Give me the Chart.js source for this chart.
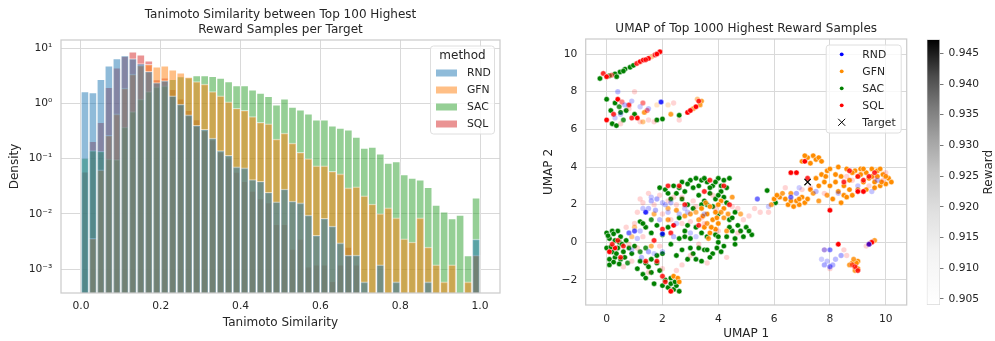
<!DOCTYPE html>
<html>
<head>
<meta charset="utf-8">
<script src="https://cdn.jsdelivr.net/npm/chart.js@4.4.1/dist/chart.umd.min.js"></script>
<style>
  html, body { margin: 0; padding: 0; background: #fff; }
  body { width: 995px; height: 341px; position: relative; overflow: hidden; }
  .box { position: absolute; top: 0; height: 341px; }
  #histBox { left: 0; width: 505px; }
  #umapBox { left: 505px; width: 410px; }
  #cbarBox { left: 915px; width: 80px; }
</style>
</head>
<body>
<div class="box" id="histBox"><canvas id="hist"></canvas></div>
<div class="box" id="umapBox"><canvas id="umap"></canvas></div>
<div class="box" id="cbarBox"><canvas id="cbar"></canvas></div>
<script>
// ---- data ----
const methods = ['RND', 'GFN', 'SAC', 'SQL'];

// histogram bin centres (bin width 0.02)
const binCenters = [0.01, 0.03, 0.05, 0.07, 0.09, 0.11, 0.13, 0.15, 0.17, 0.19,
  0.21, 0.23, 0.25, 0.27, 0.29, 0.31, 0.33, 0.35, 0.37, 0.39,
  0.41, 0.43, 0.45, 0.47, 0.49, 0.51, 0.53, 0.55, 0.57, 0.59,
  0.61, 0.63, 0.65, 0.67, 0.69, 0.71, 0.73, 0.75, 0.77, 0.79,
  0.81, 0.83, 0.85, 0.87, 0.89, 0.91, 0.93, 0.95, 0.97, 0.99];

const rndDensity = [1.65, 1.58, 2.75, 4.8, 6.5, 7.4, 6.5, 5.3, 3.8, 2.4,
  2.6, 1.38, 0.97, 0.62, 0.40, 0.34, 0.236, 0.14, 0.115, 0.071,
  0.068, 0.042, 0.039, 0.0247, 0.0166, 0.0283, 0.017, 0.0158, 0.0095, 0.0041,
  0.0083, 0.006, 0.003, 0.0018, 0.0018, 0.00059, null, 0.0012, null, 0.00059,
  null, null, null, 0.00059, null, null, null, null, null, 0.0035];

const gfnDensity = [null, 0.0036, 0.063, 0.264, 0.65, 1.9, 3.4, 4.9, 5.1, 4.6,
  4.8, 4.06, 3.58, 3.0, 2.5, 2.24, 1.65, 1.38, 1.07, 0.82,
  0.75, 0.58, 0.454, 0.43, 0.226, 0.29, 0.192, 0.13, 0.10, 0.0746,
  0.0746, 0.059, 0.053, 0.0296, 0.031, 0.0213, 0.0151, 0.0101, 0.0129, 0.0085,
  0.00355, 0.0031, 0.0085, 0.0025, 0.0012, 0.00059, 0.0012, null, 0.00059, 0.0018];

const sacDensity = [0.103, 0.14, 0.136, 0.099, 0.096, 0.373, 0.71, 1.2, 1.65, 2.0,
  2.08, 2.75, 3.08, 2.95, 3.2, 3.2, 3.1, 2.87, 2.5, 2.11,
  2.11, 1.77, 1.54, 1.34, 0.946, 1.21, 0.86, 0.77, 0.65, 0.507,
  0.507, 0.394, 0.358, 0.334, 0.247, 0.156, 0.163, 0.123, 0.0836, 0.0883,
  0.0516, 0.0448, 0.0416, 0.0303, 0.0144, 0.0109, 0.0082, 0.0095, 0.00177, 0.0195];

const sqlDensity = [0.058, 0.206, 0.454, 1.97, 4.4, 7.2, 8.6, 7.6, 5.9, 2.7,
  2.9, 1.8, 1.21, 0.75, 0.51, 0.32, 0.22, 0.13, 0.10, 0.057,
  0.039, 0.026, 0.019, 0.016, 0.0065, 0.0065, 0.0023, 0.0035, 0.0011, 0.0012,
  0.0012, 0.0006, 0.0012, 0.0025, 0.0012, null, null, null, null, null,
  null, null, null, null, null, null, null, null, null, 0.0018];

const histXTicks = [0, 0.2, 0.4, 0.6, 0.8, 1.0];
const histYTicks = [0.001, 0.01, 0.1, 1, 10];
const histYTickLabels = ['10\u207B\u00B3', '10\u207B\u00B2', '10\u207B\u00B9', '10\u2070', '10\u00B9'];

// UMAP points: [umap1, umap2, reward]
const rndPoints = [
  [1.8, 2.3, 0.915], [2.0, 2.1, 0.912], [1.5, 1.8, 0.913], [1.4, 1.6, 0.93], [2.2, 1.6, 0.912],
  [2.5, 1.0, 0.911], [1.2, 0.6, 0.912], [1.0, 0.6, 0.925], [3.0, 0.5, 0.912], [3.2, 0.3, 0.911],
  [1.9, 1.2, 0.913], [2.0, -0.5, 0.912], [1.5, -0.5, 0.915], [1.7, -0.6, 0.911], [2.1, 2.0, 0.913],
  [1.3, 1.8, 0.912], [1.6, 2.2, 0.914], [0.8, 0.5, 0.922], [2.0, 0.45, 0.93], [2.9, 1.6, 0.912],
  [1.6, 2.4, 0.912], [2.3, 2.1, 0.913], [1.75, 1.7, 0.914], [2.6, 1.5, 0.912], [2.8, 1.8, 0.911],
  [1.1, 0.2, 0.912], [2.4, 0.3, 0.913], [3.5, 1.5, 0.912], [0.9, -0.4, 0.912], [1.25, -0.8, 0.913],
  [0.4, 8.0, 0.913], [1.5, 7.1, 0.912], [0.65, 7.3, 0.913], [1.95, 7.45, 0.93], [0.3, 6.6, 0.911],
  [0.5, 6.8, 0.912], [1.2, 7.2, 0.911], [0.9, 7.5, 0.912],
  [6.6, 2.4, 0.922], [6.8, 2.6, 0.915], [7.8, -0.4, 0.915], [8.0, -0.4, 0.92], [7.8, -1.2, 0.915],
  [8.0, -1.3, 0.92], [8.2, -0.9, 0.913], [7.7, -0.9, 0.911], [8.4, -0.7, 0.915], [5.8, 1.9, 0.911],
  [7.5, 2.7, 0.913], [9.0, 3.0, 0.912], [9.7, 3.3, 0.913], [9.4, -0.1, 0.925], [5.4, 2.3, 0.922],
  [7.9, -1.0, 0.912], [8.1, -1.2, 0.914], [6.9, 2.9, 0.911], [8.3, 2.6, 0.912], [9.5, 2.7, 0.912]
];

const gfnPoints = [
  [1.61, 9.86, 0.92], [1.2, 9.55, 0.91],
  [1.35, 6.9, 0.93], [1.3, 6.4, 0.92], [1.8, 7.3, 0.912], [2.2, 7.3, 0.912], [2.3, 6.8, 0.93],
  [3.4, 7.5, 0.93], [3.1, 7.1, 0.93], [3.35, 7.3, 0.93], [3.25, 7.6, 0.92],
  [3.4, 1.8, 0.935], [3.6, 1.5, 0.935], [3.8, 1.2, 0.935], [3.5, 0.8, 0.935], [3.7, 0.5, 0.935],
  [4.0, 1.0, 0.935], [4.2, 1.8, 0.935], [4.1, 2.2, 0.935], [3.9, 0.7, 0.935], [3.3, 1.2, 0.93],
  [4.3, 0.6, 0.93], [4.5, 2.4, 0.93], [2.2, 1.2, 0.93], [2.5, 1.7, 0.93], [2.8, 1.4, 0.93],
  [1.7, 1.5, 0.925], [2.4, -1.8, 0.935], [2.55, -1.9, 0.935], [2.3, -2.6, 0.93], [2.2, 1.8, 0.925],
  [3.0, 1.5, 0.93], [4.8, 1.5, 0.925], [1.0, 0.8, 0.92], [1.6, -0.2, 0.925], [0.9, 0.3, 0.92],
  [3.7, 1.9, 0.935], [3.9, 1.6, 0.935], [4.0, 2.0, 0.935], [3.6, 1.0, 0.93], [4.2, 1.3, 0.93],
  [3.45, 1.4, 0.935], [3.55, 2.1, 0.93], [3.75, 0.8, 0.935], [3.95, 1.3, 0.935], [4.1, 1.6, 0.93],
  [3.65, 0.2, 0.93], [3.2, 1.6, 0.925], [4.35, 1.5, 0.93], [2.6, -2.1, 0.935],
  [6.0, 2.3, 0.94], [6.2, 2.4, 0.94], [6.4, 2.3, 0.94], [6.5, 2.0, 0.94], [6.7, 1.9, 0.94],
  [6.9, 2.0, 0.94], [7.1, 2.1, 0.94], [7.2, 2.3, 0.94], [6.8, 2.2, 0.94], [7.0, 2.4, 0.94],
  [6.3, 2.6, 0.93], [6.6, 2.6, 0.93], [7.3, 2.8, 0.94], [7.6, 3.0, 0.94], [7.8, 3.2, 0.94],
  [7.5, 3.4, 0.94], [7.7, 3.6, 0.94], [7.9, 3.8, 0.94], [8.0, 3.9, 0.94], [8.2, 3.6, 0.94],
  [8.0, 3.0, 0.94], [8.3, 2.7, 0.94], [8.5, 2.5, 0.94], [8.1, 2.3, 0.94], [8.4, 2.1, 0.94],
  [8.6, 2.4, 0.94], [8.5, 3.0, 0.94], [8.7, 3.3, 0.94], [8.9, 3.8, 0.94], [9.1, 3.9, 0.94],
  [9.3, 3.7, 0.94], [9.5, 3.9, 0.94], [9.7, 3.8, 0.94], [9.9, 3.6, 0.94], [10.1, 3.4, 0.94],
  [10.2, 3.2, 0.94], [10.0, 3.1, 0.94], [9.8, 3.0, 0.94], [9.6, 3.2, 0.94], [9.4, 3.4, 0.94],
  [9.2, 3.2, 0.94], [9.0, 3.5, 0.94], [8.8, 3.7, 0.94], [8.6, 3.9, 0.94], [9.0, 2.8, 0.94],
  [9.3, 2.8, 0.94], [9.6, 2.9, 0.94], [8.2, 3.2, 0.94], [7.4, 4.6, 0.94], [7.2, 4.5, 0.94],
  [7.0, 4.3, 0.94], [7.5, 4.4, 0.94], [7.3, 4.2, 0.94], [7.6, 4.5, 0.94], [5.9, 2.0, 0.93],
  [7.4, 2.6, 0.93], [7.9, 2.5, 0.93], [8.7, 2.8, 0.94], [9.8, 3.9, 0.94], [9.5, 3.5, 0.94],
  [6.1, 2.5, 0.94], [6.6, 2.2, 0.94], [6.9, 2.3, 0.94], [7.6, 2.2, 0.93], [8.8, 2.5, 0.94],
  [9.1, 3.6, 0.94], [9.7, 3.5, 0.94], [10.0, 3.5, 0.94], [9.85, 3.2, 0.94], [8.4, 3.5, 0.94],
  [7.85, 3.5, 0.94], [8.3, 4.0, 0.94], [9.2, 3.9, 0.94], [7.1, 4.6, 0.94], [7.7, 4.3, 0.94],
  [8.8, -1.1, 0.94], [8.9, -1.3, 0.94], [9.0, -1.0, 0.94], [8.9, -1.5, 0.93], [9.0, -1.4, 0.94],
  [8.7, -1.2, 0.93], [9.6, 0.1, 0.93], [8.95, -1.1, 0.94], [8.85, -0.9, 0.93]
];

const sacPoints = [
  [-0.24, 8.7, 0.94], [0.3, 8.95, 0.94], [0.36, 8.8, 0.94], [0.48, 9.05, 0.94], [0.66, 9.2, 0.94],
  [0.84, 9.3, 0.94], [0.96, 9.4, 0.94], [0.1, 8.85, 0.93], [0.6, 9.1, 0.94],
  [0.0, 7.6, 0.94], [0.3, 7.4, 0.94], [0.5, 6.9, 0.94], [0.2, 6.3, 0.94], [0.35, 6.2, 0.94],
  [0.7, 7.0, 0.94], [1.0, 6.8, 0.94], [0.6, 6.5, 0.93], [0.15, 7.0, 0.94], [0.45, 7.2, 0.93],
  [1.8, 6.5, 0.94], [2.0, 6.55, 0.94], [2.6, 6.75, 0.94],
  [0.0, 0.5, 0.94], [0.2, 0.6, 0.94], [0.4, 0.6, 0.94], [0.1, 0.2, 0.94], [0.3, 0.1, 0.94],
  [0.5, 0.3, 0.94], [0.0, -0.3, 0.94], [0.2, -0.5, 0.94], [0.4, -0.3, 0.94], [0.1, -0.9, 0.94],
  [0.3, -0.8, 0.94], [0.5, -0.9, 0.94], [0.6, -0.5, 0.94], [0.7, 0.1, 0.94], [0.8, -0.3, 0.94],
  [0.9, -0.6, 0.94], [0.1, -1.2, 0.94], [1.0, -0.2, 0.94], [1.2, -1.0, 0.94], [1.4, -1.1, 0.94],
  [1.3, -1.7, 0.94], [1.5, -1.3, 0.94], [1.6, -0.9, 0.94], [1.8, -1.1, 0.94], [1.9, -1.5, 0.94],
  [2.1, -2.0, 0.94], [2.2, -2.4, 0.94], [2.4, -2.5, 0.94], [2.5, -2.3, 0.94], [2.6, -2.6, 0.94],
  [2.3, -1.9, 0.94], [1.4, -1.9, 0.94], [1.8, -0.7, 0.94], [2.0, -0.6, 0.94], [2.5, -0.7, 0.94],
  [2.3, -0.1, 0.94], [2.6, 0.2, 0.94], [2.8, 0.3, 0.94], [3.0, -0.3, 0.94], [3.2, -0.9, 0.94],
  [3.5, -0.4, 0.94], [3.8, -0.6, 0.94], [4.1, -0.5, 0.94], [3.6, 0.3, 0.94], [3.9, 0.4, 0.94],
  [4.3, 0.3, 0.94], [4.5, 0.6, 0.94], [4.7, 0.9, 0.94], [5.0, 0.8, 0.94], [5.2, 0.4, 0.94],
  [4.9, 0.3, 0.94], [4.6, 0.2, 0.94], [1.2, 1.1, 0.94], [1.4, 0.8, 0.94], [1.6, 0.5, 0.94],
  [1.8, 0.9, 0.94], [2.0, 0.4, 0.94], [2.2, 0.8, 0.94], [1.9, 2.9, 0.94], [2.1, 2.8, 0.94],
  [2.3, 2.3, 0.94], [2.4, 3.0, 0.94], [2.6, 2.9, 0.94], [2.8, 2.7, 0.94], [3.0, 3.3, 0.94],
  [3.2, 3.4, 0.94], [3.4, 3.3, 0.94], [3.6, 3.2, 0.94], [3.8, 3.0, 0.94], [4.0, 3.4, 0.94],
  [4.2, 3.3, 0.94], [4.4, 3.4, 0.94], [3.3, 2.5, 0.94], [3.5, 2.2, 0.94], [3.7, 2.6, 0.94],
  [3.9, 2.3, 0.94], [4.1, 2.7, 0.94], [4.3, 2.1, 0.94], [2.9, 2.0, 0.94], [3.1, 1.8, 0.94],
  [4.6, 1.6, 0.94], [4.4, 1.2, 0.94], [3.2, 0.8, 0.94], [2.6, 1.3, 0.94], [2.8, 0.6, 0.94],
  [2.9, -0.9, 0.94], [4.0, 1.5, 0.94], [4.0, 0.0, 0.94], [3.4, -1.0, 0.94], [3.6, -0.4, 0.94],
  [0.05, 0.35, 0.94], [0.25, 0.45, 0.94], [0.45, 0.0, 0.94], [0.15, -0.25, 0.94], [0.35, -0.6, 0.94],
  [0.55, -0.1, 0.94], [0.25, -1.05, 0.94], [0.45, -1.15, 0.94], [0.65, -0.8, 0.94], [0.75, -1.1, 0.93],
  [1.1, -1.4, 0.94], [1.6, -1.6, 0.94], [1.7, -2.2, 0.94], [2.0, -2.3, 0.94], [2.3, -2.2, 0.94],
  [2.45, -2.1, 0.94], [1.2, -0.5, 0.93], [1.4, -0.3, 0.93], [2.7, -0.4, 0.94], [3.1, -0.6, 0.94],
  [3.3, -0.3, 0.94], [3.7, -0.8, 0.94], [3.95, -0.3, 0.94], [4.2, -0.2, 0.94], [4.8, 0.6, 0.94],
  [5.1, 0.6, 0.94], [4.4, 0.8, 0.94], [2.5, 2.6, 0.94], [2.7, 3.2, 0.94], [2.9, 3.1, 0.94],
  [3.1, 2.9, 0.94], [3.3, 3.0, 0.94], [3.5, 3.4, 0.94], [3.7, 2.9, 0.94], [3.9, 3.2, 0.94],
  [4.1, 3.0, 0.94], [4.3, 2.9, 0.94], [3.4, 2.0, 0.94], [3.6, 2.0, 0.94], [3.8, 1.9, 0.94],
  [4.0, 2.5, 0.94], [4.2, 2.4, 0.94], [2.7, 2.3, 0.94], [2.2, 2.6, 0.94], [1.6, 1.2, 0.93],
  [1.3, 1.0, 0.94], [2.9, 0.9, 0.94], [3.0, 0.2, 0.94], [3.4, 0.5, 0.94], [4.5, 1.3, 0.94],
  [4.6, -0.1, 0.94], [4.0, 0.3, 0.94],
  [5.75, 2.75, 0.94], [6.05, 2.1, 0.94]
];

const sqlPoints = [
  [-0.12, 8.97, 0.93], [0.0, 8.8, 0.94], [1.08, 9.5, 0.93], [1.2, 9.6, 0.94], [1.31, 9.68, 0.94],
  [1.5, 9.77, 0.94], [1.73, 9.95, 0.93], [1.91, 10.12, 0.94], [0.18, 8.88, 0.92], [1.4, 9.7, 0.93],
  [1.8, 10.0, 0.94],
  [0.0, 6.5, 0.94], [0.4, 7.6, 0.94], [0.8, 7.3, 0.93], [1.1, 6.6, 0.94], [0.25, 6.8, 0.93],
  [0.9, 6.6, 0.93], [1.3, 7.4, 0.92], [1.45, 7.0, 0.92], [0.55, 7.45, 0.92], [1.2, 6.4, 0.91],
  [2.9, 6.9, 0.94], [3.0, 7.0, 0.94], [3.2, 7.2, 0.94], [3.3, 7.5, 0.93], [2.6, 6.5, 0.91],
  [1.7, 6.4, 0.91], [0.5, 6.3, 0.91], [0.8, 7.1, 0.91], [1.5, 6.5, 0.91], [1.0, 8.0, 0.91],
  [2.4, 7.4, 0.91],
  [0.1, -0.5, 0.94], [0.3, -0.3, 0.94], [0.6, -0.2, 0.93], [0.4, 0.1, 0.93], [0.2, -0.1, 0.93],
  [2.3, -2.6, 0.94], [1.8, -1.0, 0.93], [2.0, 0.7, 0.93], [2.4, 0.9, 0.94], [2.3, 0.5, 0.93],
  [2.2, 3.0, 0.93], [2.6, 3.0, 0.93], [3.5, 2.7, 0.93], [4.2, 3.0, 0.93], [3.7, 3.3, 0.93],
  [1.4, -1.0, 0.93], [0.5, -0.8, 0.93], [2.1, -2.1, 0.93], [2.0, -1.8, 0.93], [3.3, 0.9, 0.93],
  [4.4, 2.0, 0.93], [2.8, 2.0, 0.93], [1.7, 0.1, 0.93],
  [1.0, 1.0, 0.91], [1.3, 2.1, 0.91], [1.5, 2.6, 0.91], [1.7, 2.0, 0.91], [2.0, 1.5, 0.91],
  [2.7, 1.0, 0.91], [3.0, 1.1, 0.91], [3.2, 1.9, 0.91], [3.5, 1.0, 0.91], [3.8, 2.5, 0.91],
  [4.5, 1.9, 0.91], [4.7, 0.5, 0.91], [5.5, 1.6, 0.91], [5.8, 1.6, 0.91], [1.1, -0.3, 0.91],
  [1.5, -1.6, 0.91], [2.0, -1.4, 0.91], [2.7, -1.2, 0.91], [3.0, -0.7, 0.91], [3.3, -0.1, 0.91],
  [0.9, -1.0, 0.91], [0.6, -1.3, 0.91], [2.4, 2.4, 0.91], [2.7, 2.4, 0.91], [4.0, 0.6, 0.91],
  [4.9, 1.2, 0.91], [5.1, 1.4, 0.91], [1.1, 1.6, 0.91], [0.7, 0.8, 0.91], [2.3, 1.2, 0.91],
  [1.9, 2.5, 0.91], [2.2, 2.2, 0.91], [2.5, 2.0, 0.91], [3.1, 2.2, 0.91], [3.4, 1.3, 0.91],
  [3.9, 1.8, 0.91], [4.7, 1.8, 0.91], [5.3, 1.8, 0.91], [0.8, -0.1, 0.91], [1.3, 0.3, 0.91],
  [1.9, -0.2, 0.91], [2.5, -1.5, 0.91], [3.6, -1.1, 0.91], [4.3, -0.8, 0.91], [1.2, 2.3, 0.91],
  [6.6, 3.7, 0.94], [6.8, 3.7, 0.94], [7.1, 4.3, 0.94], [7.2, 3.4, 0.93], [8.0, 1.7, 0.94],
  [8.3, -0.1, 0.94], [9.5, 0.0, 0.94], [9.4, -0.1, 0.94], [8.7, 3.8, 0.93], [9.0, 3.5, 0.93],
  [9.2, 3.3, 0.93], [9.4, 3.5, 0.93], [9.6, 3.7, 0.93], [9.2, 2.7, 0.94], [9.0, 2.7, 0.94],
  [8.5, 3.2, 0.93], [8.9, -1.3, 0.93], [9.0, -1.5, 0.93], [8.8, -1.2, 0.92],
  [6.4, 2.9, 0.91], [7.0, 2.8, 0.91], [7.8, 2.6, 0.91], [8.6, 3.5, 0.91], [9.4, 3.0, 0.91],
  [9.9, 3.3, 0.91], [8.0, -1.4, 0.91], [7.8, -0.4, 0.91], [8.6, -0.7, 0.91], [9.3, -0.2, 0.91],
  [7.3, 2.9, 0.91], [8.8, 3.3, 0.91], [9.6, 3.4, 0.91], [10.0, 3.7, 0.91], [8.5, -0.4, 0.91]
];

const targetPoint = [7.2, 3.2];

const umapXTicks = [0, 2, 4, 6, 8, 10];
const umapYTicks = [-2, 0, 2, 4, 6, 8, 10];
const rewardTicks = [0.905, 0.91, 0.915, 0.92, 0.925, 0.93, 0.935, 0.94, 0.945];
const rewardRange = [0.90402, 0.94728];

// ---- styles ----
const TEXT = '#262626';
const GRID = '#d9d9d9';
const FRAME = '#cccccc';
const FONT = 'DejaVu Sans';
Chart.defaults.font.family = FONT;
Chart.defaults.color = TEXT;
Chart.defaults.animation = false;

const histColors = {
  RND: 'rgba(31,119,180,0.5)',
  GFN: 'rgba(255,127,14,0.5)',
  SAC: 'rgba(44,160,44,0.5)',
  SQL: 'rgba(214,39,40,0.5)'
};
const scatterRgb = { RND: [0, 0, 255], GFN: [255, 140, 0], SAC: [0, 128, 0], SQL: [255, 0, 0] };

function drawLegendBox(ctx, x, y, w, h) {
  ctx.save();
  ctx.beginPath();
  ctx.roundRect(x, y, w, h, 3);
  ctx.fillStyle = 'rgba(255,255,255,0.8)';
  ctx.fill();
  ctx.strokeStyle = '#dedede';
  ctx.lineWidth = 1;
  ctx.stroke();
  ctx.restore();
}

function drawFrame(chart) {
  const { ctx, chartArea: a } = chart;
  ctx.save();
  ctx.strokeStyle = FRAME;
  ctx.lineWidth = 1.25;
  ctx.strokeRect(a.left, a.top, a.right - a.left, a.bottom - a.top);
  ctx.restore();
}

// ---- histogram ----
const histSeries = { RND: rndDensity, GFN: gfnDensity, SAC: sacDensity, SQL: sqlDensity };

const histLegend = {
  id: 'histLegend',
  afterDatasetsDraw(chart) {
    drawFrame(chart);
    const { ctx, chartArea: a } = chart;
    drawLegendBox(ctx, a.right - 69.5, a.top + 6, 64, 88);
    ctx.save();
    ctx.fillStyle = TEXT;
    ctx.textBaseline = 'middle';
    ctx.font = '12px ' + FONT;
    ctx.textAlign = 'center';
    ctx.fillText('method', a.right - 37.5, a.top + 16);
    ctx.font = '10.8px ' + FONT;
    ctx.textAlign = 'left';
    methods.forEach((m, i) => {
      const y = a.top + 33 + i * 17;
      ctx.fillStyle = histColors[m];
      ctx.fillRect(a.right - 64, y - 3.5, 21, 7);
      ctx.fillStyle = TEXT;
      ctx.fillText(m, a.right - 33, y + 0.5);
    });
    ctx.restore();
  }
};

new Chart(document.getElementById('hist'), {
  type: 'bar',
  data: {
    datasets: methods.map(m => ({
      label: m,
      data: binCenters.map((c, i) => ({ x: c, y: histSeries[m][i] })),
      backgroundColor: histColors[m],
      borderColor: 'rgba(255,255,255,0.55)',
      borderWidth: 1,
      borderSkipped: 'start',
      grouped: false,
      barPercentage: 1,
      categoryPercentage: 1
    }))
  },
  options: {
    responsive: true,
    maintainAspectRatio: false,
    layout: { padding: { left: 0, right: 5, top: 0, bottom: 0 } },
    plugins: {
      legend: { display: false },
      tooltip: { enabled: false },
      title: {
        display: true,
        fullSize: false,
        text: ['Tanimoto Similarity between Top 100 Highest', 'Reward Samples per Target'],
        font: { size: 12, weight: 'normal' },
        color: TEXT,
        padding: { top: 7.8, bottom: 3.4 }
      }
    },
    scales: {
      x: {
        type: 'linear',
        min: -0.05,
        max: 1.05,
        offset: false,
        afterFit: s => { s.height = 48; },
        afterBuildTicks: s => { s.ticks = histXTicks.map(v => ({ value: v })); },
        ticks: { font: { size: 10.7 }, color: TEXT, padding: 7.3, callback: v => v.toFixed(1) },
        grid: { color: GRID, drawTicks: false, offset: false },
        border: { display: false },
        title: { display: true, text: 'Tanimoto Similarity', font: { size: 12 }, color: TEXT, padding: { top: 0, bottom: 10.5 } }
      },
      y: {
        type: 'logarithmic',
        min: 0.00037,
        max: 14.1,
        afterFit: s => { s.width = 61; },
        afterBuildTicks: s => { s.ticks = histYTicks.map(v => ({ value: v })); },
        ticks: {
          font: { size: 10.7 }, color: TEXT, padding: 8.7,
          callback: v => histYTickLabels[histYTicks.indexOf(v)]
        },
        grid: { color: GRID, drawTicks: false },
        border: { display: false },
        title: { display: true, text: 'Density', font: { size: 12 }, color: TEXT, padding: { top: 7.8, bottom: 0 } }
      }
    }
  },
  plugins: [histLegend]
});

// ---- UMAP scatter ----
function rewardAlpha(r) {
  return Math.min(1, Math.max(0.12, (r - 0.905) / 0.03));
}
function rgba(rgb, a) {
  return 'rgba(' + rgb[0] + ',' + rgb[1] + ',' + rgb[2] + ',' + a.toFixed(3) + ')';
}
const umapSeries = { RND: rndPoints, GFN: gfnPoints, SAC: sacPoints, SQL: sqlPoints };
const drawOrder = { RND: 0, SQL: 1, GFN: 2, SAC: 3 };

const umapLegend = {
  id: 'umapLegend',
  afterDatasetsDraw(chart) {
    drawFrame(chart);
    const { ctx, chartArea: a } = chart;
    drawLegendBox(ctx, a.right - 80.5, a.top + 6, 75, 88);
    ctx.save();
    ctx.font = '10.8px ' + FONT;
    ctx.textBaseline = 'middle';
    ctx.textAlign = 'left';
    const labels = methods.concat(['Target']);
    labels.forEach((m, i) => {
      const y = a.top + 15.3 + i * 17;
      const x = a.right - 65;
      if (m === 'Target') {
        ctx.strokeStyle = '#000';
        ctx.lineWidth = 1;
        ctx.beginPath();
        ctx.moveTo(x - 3.5, y - 3.5); ctx.lineTo(x + 3.5, y + 3.5);
        ctx.moveTo(x - 3.5, y + 3.5); ctx.lineTo(x + 3.5, y - 3.5);
        ctx.stroke();
      } else {
        ctx.fillStyle = rgba(scatterRgb[m], 1);
        ctx.beginPath();
        ctx.arc(x, y, 1.9, 0, Math.PI * 2);
        ctx.fill();
      }
      ctx.fillStyle = TEXT;
      ctx.fillText(m, a.right - 44.4, y + 0.5);
    });
    ctx.restore();
  }
};

new Chart(document.getElementById('umap'), {
  type: 'scatter',
  data: {
    datasets: methods.map(m => ({
      label: m,
      order: drawOrder[m],
      data: umapSeries[m].map(p => ({ x: p[0], y: p[1] })),
      pointRadius: 2.7,
      pointBorderWidth: 0.5,
      pointBackgroundColor: umapSeries[m].map(p => rgba(scatterRgb[m], rewardAlpha(p[2]))),
      pointBorderColor: umapSeries[m].map(p => rgba([255, 255, 255], rewardAlpha(p[2]))),
      pointHoverRadius: 2.7
    })).concat([{
      label: 'Target',
      order: -1,
      data: [{ x: targetPoint[0], y: targetPoint[1] }],
      pointStyle: 'crossRot',
      pointRadius: 4.5,
      pointBorderWidth: 1.2,
      pointBorderColor: '#000',
      pointBackgroundColor: '#000'
    }])
  },
  options: {
    responsive: true,
    maintainAspectRatio: false,
    layout: { padding: { left: 0, right: 8.3, top: 0, bottom: 0 } },
    plugins: {
      legend: { display: false },
      tooltip: { enabled: false },
      title: {
        display: true,
        fullSize: false,
        text: 'UMAP of Top 1000 Highest Reward Samples',
        font: { size: 12, weight: 'normal' },
        color: TEXT,
        padding: { top: 21.8, bottom: 2.8 }
      }
    },
    scales: {
      x: {
        type: 'linear',
        min: -0.75,
        max: 10.75,
        afterFit: s => { s.height = 36; },
        afterBuildTicks: s => { s.ticks = umapXTicks.map(v => ({ value: v })); },
        ticks: { font: { size: 10.7 }, color: TEXT, padding: 7.6 },
        grid: { color: GRID, drawTicks: false },
        border: { display: false },
        title: { display: true, text: 'UMAP 1', font: { size: 12 }, color: TEXT, padding: { top: 0, bottom: 0 } }
      },
      y: {
        type: 'linear',
        min: -3.33,
        max: 10.8,
        afterFit: s => { s.width = 80.7; },
        afterBuildTicks: s => { s.ticks = umapYTicks.map(v => ({ value: v })); },
        ticks: {
          font: { size: 10.7 }, color: TEXT, padding: 8.4,
          callback: v => (v < 0 ? '\u2212' + Math.abs(v) : String(v))
        },
        grid: { color: GRID, drawTicks: false },
        border: { display: false },
        title: { display: true, text: 'UMAP 2', font: { size: 12 }, color: TEXT, padding: { top: 37.1, bottom: 0 } }
      }
    }
  },
  plugins: [umapLegend]
});

// ---- colour bar ----
const greyStops = [
  [0.0, '#ffffff'], [0.2, '#f3f3f3'], [0.35, '#e0e0e0'], [0.5, '#c6c6c6'],
  [0.62, '#a4a4a4'], [0.74, '#7c7c7c'], [0.86, '#4c4c4c'], [1.0, '#000000']
];

const cbarLabel = {
  id: 'cbarLabel',
  afterDraw(chart) {
    const { ctx, chartArea: a } = chart;
    ctx.save();
    ctx.translate(74.3, (a.top + a.bottom) / 2);
    ctx.rotate(-Math.PI / 2);
    ctx.font = '12px ' + FONT;
    ctx.fillStyle = TEXT;
    ctx.textAlign = 'center';
    ctx.textBaseline = 'middle';
    ctx.fillText('Reward', 0, 0);
    ctx.restore();
  }
};

new Chart(document.getElementById('cbar'), {
  type: 'bar',
  data: {
    labels: ['Reward'],
    datasets: [{
      data: [rewardRange],
      backgroundColor: ctx => {
        const a = ctx.chart.chartArea;
        if (!a) return '#ccc';
        const g = ctx.chart.ctx.createLinearGradient(0, a.bottom, 0, a.top);
        greyStops.forEach(s => g.addColorStop(s[0], s[1]));
        return g;
      },
      borderColor: '#d9d9d9',
      borderWidth: 1,
      borderSkipped: false,
      barPercentage: 1,
      categoryPercentage: 1
    }]
  },
  options: {
    responsive: true,
    maintainAspectRatio: false,
    layout: { padding: { left: 11.7, right: 0, top: 39.3, bottom: 36 } },
    plugins: { legend: { display: false }, tooltip: { enabled: false } },
    scales: {
      x: { display: false },
      y: {
        position: 'right',
        min: rewardRange[0],
        max: rewardRange[1],
        afterFit: s => { s.width = 55; },
        afterBuildTicks: s => { s.ticks = rewardTicks.map(v => ({ value: v })); },
        ticks: { font: { size: 10.7 }, color: TEXT, padding: 5, callback: v => v.toFixed(3) },
        grid: { drawOnChartArea: false, drawTicks: true, tickLength: 3.5, tickColor: '#555', tickWidth: 0.8 },
        border: { display: false }
      }
    }
  },
  plugins: [cbarLabel]
});
</script>
</body>
</html>
